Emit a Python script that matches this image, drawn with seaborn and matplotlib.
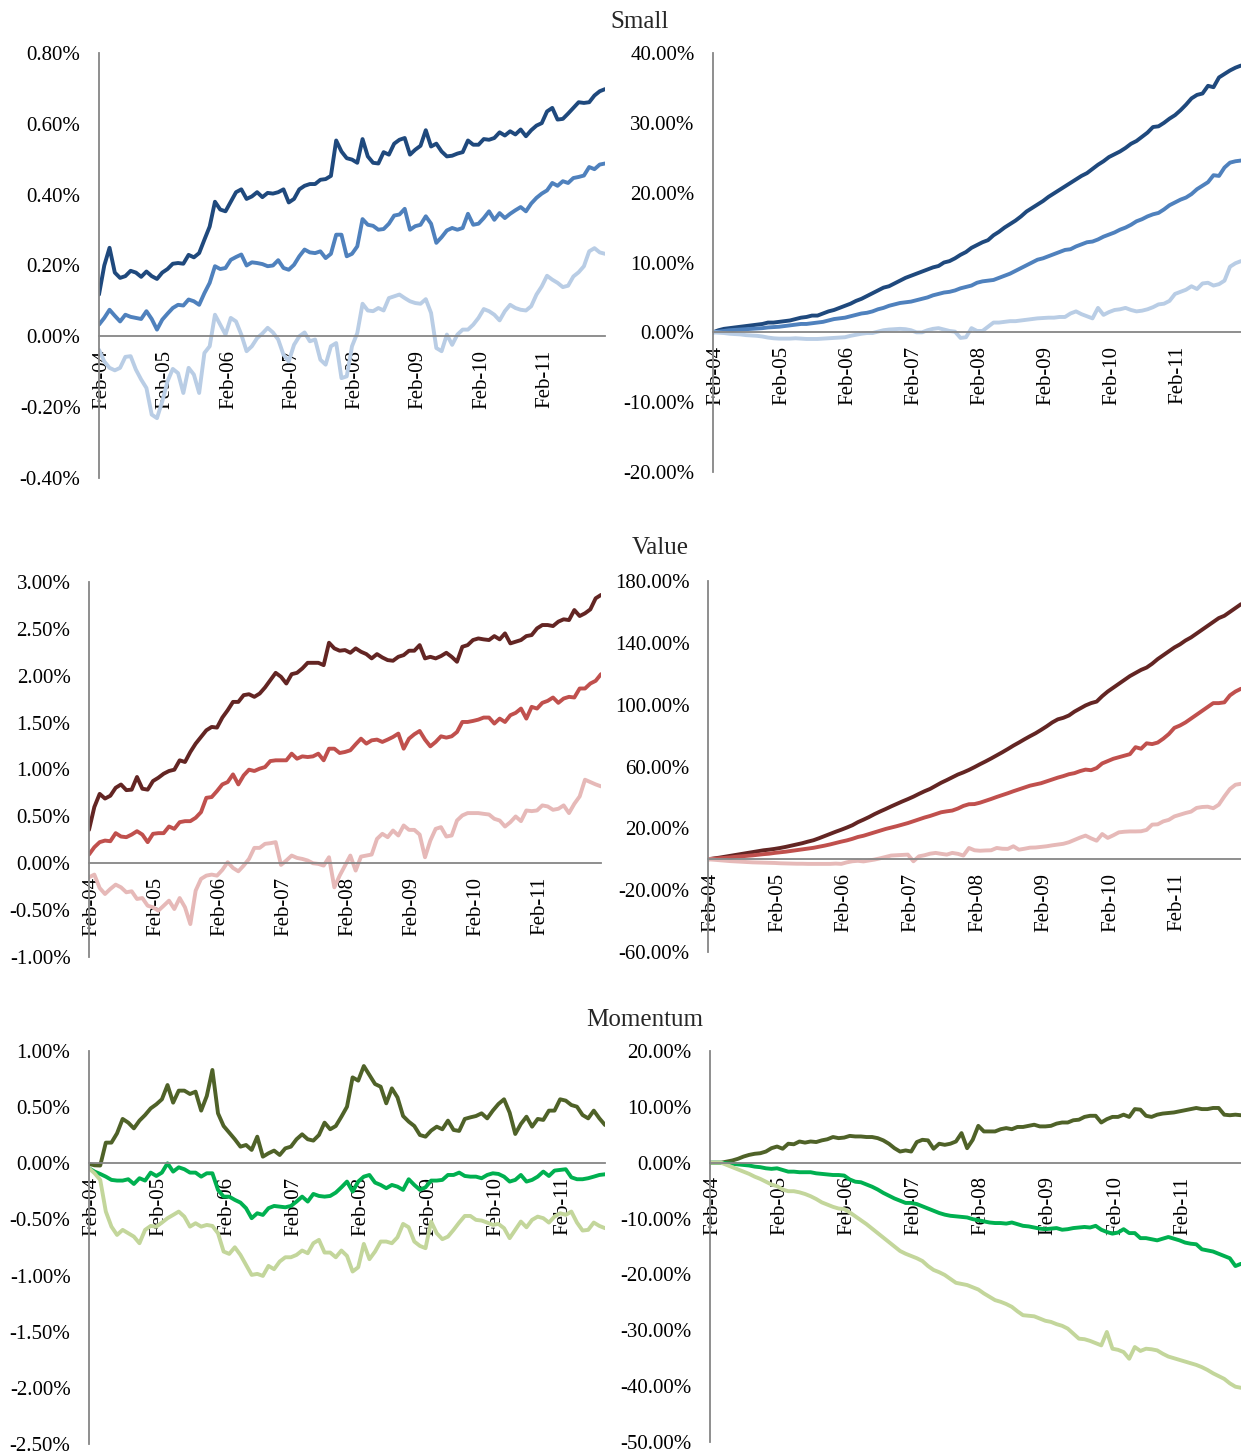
import numpy as np
import pandas as pd
import matplotlib
matplotlib.use("Agg")
import matplotlib.pyplot as plt
import matplotlib.transforms as mtransforms
import seaborn as sns
from matplotlib.ticker import FuncFormatter

# ---------------- data (percent) ----------------
year_labels = ["Feb-04", "Feb-05", "Feb-06", "Feb-07", "Feb-08", "Feb-09", "Feb-10", "Feb-11"]

small_avg_high = [0.118, 0.20, 0.25, 0.18, 0.165, 0.17, 0.185, 0.18, 0.168, 0.183, 0.17, 0.162,
                  0.18, 0.19, 0.205, 0.207, 0.205, 0.23, 0.223, 0.235, 0.273, 0.31, 0.38, 0.358,
                  0.353, 0.38, 0.407, 0.415, 0.388, 0.395, 0.407, 0.393, 0.405, 0.403, 0.407, 0.415,
                  0.378, 0.388, 0.415, 0.425, 0.43, 0.43, 0.442, 0.444, 0.453, 0.553, 0.522, 0.503,
                  0.499, 0.49, 0.557, 0.508, 0.49, 0.488, 0.52, 0.513, 0.544, 0.555, 0.56, 0.513,
                  0.527, 0.538, 0.582, 0.536, 0.544, 0.522, 0.508, 0.51, 0.516, 0.52, 0.553, 0.541,
                  0.541, 0.557, 0.555, 0.56, 0.576, 0.567, 0.579, 0.57, 0.584, 0.565, 0.582, 0.595,
                  0.602, 0.635, 0.645, 0.612, 0.614, 0.629, 0.645, 0.661, 0.659, 0.661, 0.68, 0.692, 0.698]
small_avg_mid = [0.033, 0.052, 0.075, 0.058, 0.042, 0.061, 0.055, 0.052, 0.049, 0.071, 0.049, 0.019,
                 0.047, 0.064, 0.08, 0.089, 0.087, 0.104, 0.099, 0.089, 0.122, 0.151, 0.198, 0.19,
                 0.193, 0.216, 0.224, 0.231, 0.2, 0.209, 0.207, 0.204, 0.198, 0.2, 0.215, 0.193,
                 0.188, 0.202, 0.226, 0.245, 0.237, 0.235, 0.24, 0.221, 0.233, 0.287, 0.287, 0.226,
                 0.233, 0.254, 0.331, 0.315, 0.312, 0.301, 0.303, 0.318, 0.341, 0.344, 0.36, 0.301,
                 0.311, 0.315, 0.339, 0.318, 0.264, 0.28, 0.299, 0.306, 0.301, 0.306, 0.346, 0.315,
                 0.318, 0.334, 0.353, 0.329, 0.348, 0.334, 0.346, 0.356, 0.365, 0.353, 0.375, 0.391,
                 0.403, 0.412, 0.433, 0.425, 0.438, 0.433, 0.447, 0.45, 0.454, 0.478, 0.472, 0.485, 0.488]
small_avg_low = [-0.038, -0.071, -0.089, -0.096, -0.089, -0.058, -0.056, -0.094, -0.122, -0.146, -0.221, -0.231,
                 -0.184, -0.127, -0.092, -0.104, -0.16, -0.089, -0.108, -0.16, -0.047, -0.028, 0.061, 0.033,
                 0.005, 0.052, 0.042, 0.005, -0.042, -0.028, -0.005, 0.008, 0.024, 0.011, -0.009, -0.052,
                 -0.071, -0.024, 0.0, 0.011, -0.014, -0.009, -0.066, -0.08, -0.028, -0.019, -0.118, -0.113,
                 -0.028, 0.009, 0.092, 0.073, 0.071, 0.08, 0.073, 0.108, 0.113, 0.118, 0.108, 0.099,
                 0.094, 0.092, 0.105, 0.066, -0.033, -0.042, 0.005, -0.024, 0.005, 0.019, 0.019, 0.033,
                 0.052, 0.077, 0.071, 0.061, 0.045, 0.071, 0.089, 0.08, 0.075, 0.073, 0.085, 0.118,
                 0.141, 0.171, 0.16, 0.151, 0.139, 0.143, 0.169, 0.181, 0.198, 0.24, 0.249, 0.237, 0.233]

small_cum_high = [0.0, 0.3, 0.5, 0.6, 0.7, 0.8, 0.9, 1.0, 1.1, 1.2, 1.4, 1.4,
                  1.5, 1.6, 1.7, 1.9, 2.1, 2.2, 2.4, 2.4, 2.7, 3.0, 3.2, 3.5,
                  3.8, 4.1, 4.5, 4.8, 5.2, 5.6, 6.0, 6.4, 6.6, 7.0, 7.4, 7.8,
                  8.1, 8.4, 8.7, 9.0, 9.3, 9.5, 10.0, 10.2, 10.6, 11.1, 11.5, 12.1,
                  12.5, 12.9, 13.2, 13.9, 14.4, 15.0, 15.5, 16.0, 16.6, 17.3, 17.8, 18.3,
                  18.8, 19.4, 19.9, 20.4, 20.9, 21.4, 21.9, 22.4, 22.8, 23.4, 24.0, 24.5,
                  25.1, 25.5, 25.9, 26.4, 27.0, 27.4, 28.0, 28.6, 29.4, 29.5, 30.0, 30.6,
                  31.1, 31.8, 32.6, 33.5, 34.0, 34.2, 35.3, 35.1, 36.5, 37.0, 37.5, 37.9, 38.2]
small_cum_mid = [0.0, 0.1, 0.2, 0.3, 0.35, 0.4, 0.45, 0.5, 0.55, 0.6, 0.7, 0.75,
                 0.8, 0.9, 1.0, 1.1, 1.2, 1.2, 1.3, 1.4, 1.5, 1.7, 1.9, 2.0,
                 2.1, 2.3, 2.5, 2.7, 2.8, 3.0, 3.3, 3.5, 3.8, 4.0, 4.2, 4.3,
                 4.4, 4.6, 4.8, 5.0, 5.3, 5.5, 5.7, 5.8, 6.0, 6.3, 6.5, 6.7,
                 7.1, 7.3, 7.4, 7.5, 7.8, 8.1, 8.4, 8.8, 9.2, 9.6, 10.0, 10.4,
                 10.6, 10.9, 11.2, 11.5, 11.8, 11.9, 12.3, 12.6, 12.9, 13.0, 13.3, 13.7,
                 14.0, 14.3, 14.7, 15.0, 15.4, 15.9, 16.2, 16.6, 16.9, 17.1, 17.6, 18.2,
                 18.6, 19.0, 19.3, 19.8, 20.5, 21.0, 21.5, 22.5, 22.4, 23.6, 24.3, 24.5, 24.6]
small_cum_low = [0.0, -0.05, -0.1, -0.2, -0.25, -0.3, -0.4, -0.45, -0.5, -0.6, -0.75, -0.85,
                 -0.9, -0.9, -0.9, -0.85, -0.9, -0.95, -0.95, -0.95, -0.9, -0.85, -0.8, -0.75,
                 -0.7, -0.5, -0.35, -0.2, -0.1, -0.1, 0.1, 0.3, 0.4, 0.45, 0.5, 0.45,
                 0.3, 0.0, 0.0, 0.3, 0.5, 0.6, 0.4, 0.2, 0.1, -0.8, -0.7, 0.6,
                 0.2, 0.2, 0.8, 1.4, 1.4, 1.5, 1.6, 1.6, 1.7, 1.8, 1.9, 2.0,
                 2.05, 2.1, 2.1, 2.2, 2.2, 2.7, 3.0, 2.6, 2.3, 2.0, 3.5, 2.5,
                 2.9, 3.2, 3.3, 3.5, 3.2, 3.0, 3.1, 3.3, 3.6, 4.0, 4.1, 4.5,
                 5.5, 5.8, 6.1, 6.6, 6.2, 7.0, 7.1, 6.7, 6.9, 7.4, 9.4, 9.9, 10.2]

value_avg_high = [0.356, 0.6, 0.74, 0.69, 0.72, 0.805, 0.84, 0.78, 0.785, 0.92, 0.795, 0.785,
                  0.877, 0.912, 0.955, 0.984, 0.998, 1.098, 1.08, 1.187, 1.276, 1.347, 1.418, 1.454,
                  1.447, 1.554, 1.632, 1.721, 1.721, 1.793, 1.803, 1.775, 1.81, 1.875, 1.953, 2.031,
                  1.989, 1.917, 2.017, 2.031, 2.078, 2.138, 2.138, 2.138, 2.113, 2.352, 2.292, 2.267,
                  2.274, 2.245, 2.292, 2.256, 2.231, 2.185, 2.231, 2.195, 2.167, 2.16, 2.202, 2.22,
                  2.267, 2.267, 2.327, 2.185, 2.202, 2.185, 2.21, 2.245, 2.202, 2.149, 2.309, 2.327,
                  2.381, 2.398, 2.388, 2.381, 2.423, 2.388, 2.452, 2.345, 2.363, 2.381, 2.423, 2.434,
                  2.505, 2.541, 2.541, 2.53, 2.577, 2.602, 2.594, 2.701, 2.637, 2.666, 2.708, 2.826, 2.862]
value_avg_mid = [0.093, 0.171, 0.225, 0.242, 0.235, 0.321, 0.285, 0.278, 0.306, 0.342, 0.306, 0.225,
                 0.314, 0.321, 0.321, 0.392, 0.367, 0.438, 0.449, 0.449, 0.485, 0.545, 0.698, 0.706,
                 0.77, 0.841, 0.866, 0.948, 0.841, 0.937, 0.998, 0.984, 1.009, 1.026, 1.09, 1.098,
                 1.098, 1.098, 1.169, 1.115, 1.14, 1.133, 1.14, 1.169, 1.098, 1.222, 1.222, 1.176,
                 1.187, 1.205, 1.269, 1.329, 1.276, 1.311, 1.319, 1.294, 1.319, 1.347, 1.383, 1.222,
                 1.329, 1.376, 1.411, 1.319, 1.247, 1.294, 1.354, 1.34, 1.354, 1.4, 1.507, 1.507,
                 1.518, 1.532, 1.554, 1.554, 1.49, 1.543, 1.507, 1.579, 1.604, 1.65, 1.543, 1.668,
                 1.65, 1.711, 1.732, 1.768, 1.711, 1.757, 1.775, 1.768, 1.864, 1.864, 1.917, 1.946, 2.017]
value_avg_low = [-0.15, -0.121, -0.264, -0.328, -0.274, -0.228, -0.257, -0.31, -0.299, -0.381, -0.371, -0.453,
                 -0.47, -0.506, -0.453, -0.399, -0.488, -0.371, -0.47, -0.649, -0.292, -0.167, -0.132, -0.121,
                 -0.132, -0.071, 0.011, -0.05, -0.086, -0.025, 0.046, 0.164, 0.164, 0.207, 0.214, 0.225,
                 -0.018, 0.029, 0.082, 0.057, 0.046, 0.029, 0.0, -0.007, -0.025, 0.064, -0.257, -0.132,
                 -0.025, 0.082, -0.078, 0.071, 0.082, 0.093, 0.26, 0.314, 0.278, 0.349, 0.296, 0.403,
                 0.356, 0.356, 0.306, 0.064, 0.242, 0.367, 0.385, 0.285, 0.296, 0.456, 0.51, 0.535,
                 0.535, 0.535, 0.527, 0.52, 0.474, 0.456, 0.392, 0.438, 0.499, 0.449, 0.563, 0.556,
                 0.563, 0.617, 0.606, 0.57, 0.581, 0.617, 0.535, 0.634, 0.713, 0.891, 0.866, 0.841, 0.82]

value_cum_high = [0.0, 0.5, 1.0, 1.6, 2.2, 2.8, 3.4, 4.0, 4.6, 5.2, 5.8, 6.2,
                  6.7, 7.3, 8.0, 8.8, 9.6, 10.4, 11.4, 12.3, 13.6, 15.0, 16.4, 17.8,
                  19.1, 20.5, 22.0, 24.0, 25.6, 27.3, 29.2, 30.9, 32.5, 34.2, 35.8, 37.4,
                  38.9, 40.5, 42.3, 44.0, 45.5, 47.5, 49.5, 51.2, 53.0, 54.8, 56.2, 57.8,
                  59.6, 61.5, 63.3, 65.2, 67.2, 69.2, 71.3, 73.5, 75.5, 77.6, 79.6, 81.5,
                  83.7, 86.0, 88.5, 90.5, 91.5, 93.0, 95.5, 97.5, 99.5, 101.0, 102.0, 105.5,
                  108.5, 111.0, 113.5, 116.0, 118.5, 120.5, 122.5, 124.0, 126.5, 129.5, 132.0, 134.5,
                  137.0, 139.0, 141.5, 143.5, 146.0, 148.5, 151.0, 153.5, 156.0, 157.5, 160.0, 162.5, 165.0]
value_cum_mid = [0.0, 0.3, 0.6, 0.9, 1.2, 1.6, 1.9, 2.2, 2.5, 2.9, 3.3, 3.6,
                 4.1, 4.5, 4.9, 5.4, 5.9, 6.4, 6.9, 7.4, 8.1, 8.8, 9.6, 10.5,
                 11.4, 12.2, 13.2, 14.4, 15.2, 16.3, 17.4, 18.5, 19.6, 20.5, 21.4, 22.4,
                 23.4, 24.6, 25.8, 27.0, 28.0, 29.2, 30.4, 31.0, 31.5, 32.8, 34.5, 35.6,
                 35.7, 36.6, 37.8, 39.0, 40.3, 41.5, 42.7, 44.0, 45.2, 46.4, 47.6, 48.4,
                 49.2, 50.4, 51.6, 52.8, 53.8, 55.0, 55.7, 57.0, 58.0, 57.6, 59.0, 62.0,
                 63.5, 65.0, 66.0, 67.0, 68.0, 72.5, 71.5, 75.0, 74.5, 75.5, 78.0, 81.0,
                 85.0, 86.5, 88.5, 91.0, 93.5, 96.0, 98.5, 101.0, 101.0, 101.5, 106.0, 108.5, 110.3]
value_cum_low = [0.0, -0.3, -0.6, -0.9, -1.2, -1.4, -1.6, -1.8, -2.0, -2.1, -2.2, -2.3,
                 -2.4, -2.6, -2.7, -2.8, -2.9, -2.9, -3.0, -3.0, -3.0, -3.0, -3.0, -2.8,
                 -3.0, -2.0, -1.3, -1.0, -1.4, -0.8, -0.2, 0.6, 1.5, 2.4, 2.6, 2.8,
                 3.0, -1.3, 1.9, 2.6, 3.6, 4.1, 3.5, 3.0, 4.1, 3.5, 2.4, 7.3,
                 5.8, 5.5, 5.7, 5.8, 7.3, 6.8, 6.7, 8.4, 6.2, 6.8, 7.5, 7.6,
                 8.0, 8.4, 9.0, 9.5, 10.0, 11.0, 12.5, 14.0, 15.3, 13.5, 12.0, 16.3,
                 13.8, 15.5, 17.4, 17.8, 18.0, 18.0, 18.1, 19.0, 22.4, 22.6, 24.5, 25.5,
                 27.7, 28.8, 29.9, 30.8, 33.2, 33.8, 34.0, 33.0, 35.3, 40.6, 45.4, 48.2, 48.8]

mom_avg_high = [-0.006, -0.018, -0.02, 0.184, 0.184, 0.267, 0.395, 0.362, 0.311, 0.38, 0.43, 0.489,
                0.525, 0.57, 0.697, 0.54, 0.647, 0.647, 0.617, 0.638, 0.469, 0.599, 0.831, 0.445,
                0.332, 0.273, 0.214, 0.148, 0.163, 0.119, 0.237, 0.059, 0.089, 0.113, 0.074, 0.133,
                0.148, 0.214, 0.258, 0.214, 0.202, 0.252, 0.362, 0.303, 0.332, 0.415, 0.504, 0.765,
                0.736, 0.866, 0.786, 0.706, 0.682, 0.534, 0.667, 0.587, 0.421, 0.371, 0.332, 0.252,
                0.237, 0.291, 0.326, 0.303, 0.38, 0.297, 0.288, 0.395, 0.409, 0.421, 0.445, 0.4,
                0.469, 0.528, 0.57, 0.451, 0.261, 0.35, 0.415, 0.326, 0.395, 0.386, 0.469, 0.469,
                0.57, 0.558, 0.519, 0.504, 0.43, 0.4, 0.469, 0.4, 0.341]
mom_avg_mid = [-0.045, -0.074, -0.095, -0.119, -0.148, -0.154, -0.154, -0.142, -0.184, -0.133, -0.154, -0.083,
               -0.113, -0.083, 0.0, -0.074, -0.036, -0.053, -0.083, -0.083, -0.119, -0.089, -0.089, -0.237,
               -0.297, -0.297, -0.326, -0.35, -0.4, -0.489, -0.445, -0.46, -0.4, -0.38, -0.386, -0.392,
               -0.38, -0.341, -0.297, -0.341, -0.273, -0.291, -0.297, -0.291, -0.261, -0.214, -0.163, -0.252,
               -0.163, -0.119, -0.104, -0.172, -0.193, -0.222, -0.193, -0.208, -0.237, -0.142, -0.193, -0.237,
               -0.214, -0.154, -0.154, -0.148, -0.104, -0.104, -0.083, -0.113, -0.119, -0.119, -0.133, -0.104,
               -0.089, -0.095, -0.119, -0.163, -0.148, -0.104, -0.163, -0.148, -0.119, -0.074, -0.113, -0.065,
               -0.059, -0.053, -0.125, -0.142, -0.142, -0.133, -0.119, -0.104, -0.098]
mom_avg_low = [-0.045, -0.089, -0.148, -0.43, -0.564, -0.638, -0.593, -0.623, -0.653, -0.712, -0.593, -0.558,
               -0.564, -0.528, -0.489, -0.46, -0.43, -0.475, -0.564, -0.534, -0.564, -0.549, -0.558, -0.623,
               -0.786, -0.807, -0.748, -0.816, -0.905, -0.994, -0.985, -1.003, -0.914, -0.943, -0.875, -0.837,
               -0.837, -0.816, -0.777, -0.801, -0.712, -0.682, -0.795, -0.795, -0.837, -0.777, -0.825, -0.964,
               -0.926, -0.718, -0.854, -0.786, -0.697, -0.697, -0.712, -0.659, -0.54, -0.57, -0.697, -0.736,
               -0.756, -0.519, -0.623, -0.676, -0.653, -0.593, -0.528, -0.469, -0.469, -0.504, -0.51, -0.528,
               -0.549, -0.54, -0.578, -0.667, -0.593, -0.519, -0.57, -0.504, -0.475, -0.489, -0.528, -0.475,
               -0.445, -0.46, -0.43, -0.528, -0.599, -0.593, -0.528, -0.558, -0.578]

mom_cum_high = [0.0, 0.0, 0.0, 0.2, 0.4, 0.7, 1.1, 1.4, 1.6, 1.7, 2.0, 2.6,
                2.9, 2.5, 3.4, 3.3, 3.8, 3.6, 3.8, 3.7, 4.0, 4.2, 4.6, 4.4,
                4.5, 4.8, 4.7, 4.7, 4.6, 4.6, 4.4, 4.0, 3.4, 2.6, 2.0, 2.2,
                2.0, 3.7, 4.1, 4.0, 2.5, 3.4, 3.2, 3.4, 3.8, 5.3, 2.6, 4.1,
                6.6, 5.6, 5.6, 5.6, 6.0, 6.2, 6.0, 6.4, 6.4, 6.6, 6.8, 6.5,
                6.5, 6.6, 7.0, 7.2, 7.2, 7.6, 7.7, 8.2, 8.4, 8.4, 7.2, 7.8,
                8.2, 8.2, 8.6, 8.2, 9.6, 9.5, 8.4, 8.2, 8.6, 8.8, 8.9, 9.0,
                9.2, 9.4, 9.6, 9.8, 9.6, 9.6, 9.8, 9.8, 8.6, 8.5, 8.6, 8.5]
mom_cum_mid = [0.0, 0.0, 0.0, -0.1, -0.2, -0.3, -0.4, -0.5, -0.7, -0.8, -1.0, -1.1,
               -1.0, -1.3, -1.6, -1.6, -1.7, -1.7, -1.7, -1.9, -2.0, -2.1, -2.2, -2.2,
               -2.3, -3.0, -3.4, -3.5, -3.9, -4.3, -4.8, -5.4, -5.9, -6.4, -6.8, -7.2,
               -7.2, -7.4, -7.8, -8.2, -8.6, -9.0, -9.3, -9.5, -9.6, -9.7, -9.8, -10.1,
               -10.3, -10.5, -10.7, -10.8, -10.8, -10.9, -10.7, -11.0, -11.3, -11.4, -11.6, -11.8,
               -11.9, -11.8, -11.7, -12.0, -11.9, -11.7, -11.6, -11.5, -11.6, -11.3, -12.0, -12.4,
               -12.7, -12.5, -11.9, -12.6, -12.6, -13.5, -13.5, -13.7, -13.9, -13.6, -13.3, -13.6,
               -13.9, -14.3, -14.5, -14.6, -15.5, -15.7, -15.9, -16.3, -16.7, -17.1, -18.5, -18.1]
mom_cum_low = [0.0, 0.0, 0.0, -0.4, -0.8, -1.2, -1.6, -2.0, -2.5, -2.9, -3.4, -3.9,
               -4.2, -4.8, -5.1, -5.1, -5.3, -5.6, -6.0, -6.5, -7.1, -7.5, -7.9, -8.2,
               -8.3, -8.9, -9.6, -10.3, -11.0, -11.8, -12.6, -13.4, -14.2, -15.0, -15.8, -16.3,
               -16.7, -17.1, -17.6, -18.5, -19.2, -19.6, -20.1, -20.8, -21.5, -21.7, -21.9, -22.3,
               -22.7, -23.4, -24.0, -24.6, -24.9, -25.3, -25.8, -26.6, -27.3, -27.4, -27.5, -27.9,
               -28.3, -28.5, -28.9, -29.2, -29.7, -30.6, -31.5, -31.6, -31.9, -32.3, -32.7, -30.3,
               -33.3, -33.5, -33.9, -35.1, -33.0, -33.7, -33.3, -33.4, -33.6, -34.2, -34.7, -35.0,
               -35.3, -35.6, -35.9, -36.2, -36.6, -37.1, -37.7, -38.2, -38.7, -39.5, -40.1, -40.3]

series_names = ["High", "Mid", "Low"]
small_colors = ["#1F497D", "#4F81BD", "#B9CDE5"]
value_colors = ["#632523", "#C0504D", "#E6B9B8"]
mom_colors = ["#4F6228", "#00B050", "#C3D69B"]

# ---------------- style ----------------
sns.set_style("white")
plt.rcParams["font.family"] = ["Liberation Serif", "DejaVu Serif"]
plt.rcParams["axes.linewidth"] = 1.0

AX_COLOR = "#868686"

fig = plt.figure(figsize=(12.41, 14.54), dpi=100)
W, H = 1241.0, 1454.0
label_shift = mtransforms.ScaledTranslation(3.0 / 100.0, 0, fig.dpi_scale_trans)


def make_ax(x0, x1, ytop, ybot):
    return fig.add_axes([x0 / W, 1 - ybot / H, (x1 - x0) / W, (ybot - ytop) / H])


def draw(ax, seriess, colors, ylo, yhi, ystep):
    n = len(seriess[0])
    frames = []
    for name, vals in zip(series_names, seriess):
        frames.append(pd.DataFrame({"month": np.arange(len(vals)), "value": vals, "series": name}))
    df = pd.concat(frames, ignore_index=True)
    sns.lineplot(data=df, x="month", y="value", hue="series", hue_order=series_names,
                 palette=colors, linewidth=2.8, legend=False, ax=ax)
    for s in ["top", "right"]:
        ax.spines[s].set_visible(False)
    for s in ["left", "bottom"]:
        ax.spines[s].set_color(AX_COLOR)
        ax.spines[s].set_linewidth(1.3)
    ax.spines["bottom"].set_position(("data", 0))
    ax.set_xlim(0, n - 1)
    ax.set_ylim(ylo, yhi)
    nt = int(round((yhi - ylo) / ystep)) + 1
    ax.set_yticks([ylo + k * ystep for k in range(nt)])
    ax.yaxis.set_major_formatter(FuncFormatter(lambda v, p: "%.2f%%" % v))
    ticks = [12 * k for k in range(len(year_labels)) if 12 * k <= n - 1]
    labels = [year_labels[k] for k in range(len(ticks))]
    if n - 1 > ticks[-1] + 8:
        ticks.append(n - 1)
        labels.append("")
    ax.set_xticks(ticks)
    ax.set_xticklabels(labels)
    ax.set_xlabel("")
    ax.set_ylabel("")
    ax.tick_params(axis="both", direction="out", length=4.3, width=1.1, color=AX_COLOR,
                   labelsize=15, labelcolor="black")
    ax.tick_params(axis="y", pad=9)
    ax.tick_params(axis="x", pad=5.5, labelrotation=90)
    for lab in ax.get_xticklabels():
        lab.set_rotation(90)
        lab.set_va("top")
        lab.set_ha("center")
        lab.set_transform(lab.get_transform() + label_shift)
    ax.patch.set_alpha(0)
    ax.grid(False)


ax1 = make_ax(99, 605, 53, 478)
draw(ax1, [small_avg_high, small_avg_mid, small_avg_low], small_colors, -0.4, 0.8, 0.2)
ax2 = make_ax(713, 1241, 53, 472)
draw(ax2, [small_cum_high, small_cum_mid, small_cum_low], small_colors, -20, 40, 10)

ax3 = make_ax(89, 601, 582, 957)
draw(ax3, [value_avg_high, value_avg_mid, value_avg_low], value_colors, -1.0, 3.0, 0.5)
ax4 = make_ax(708, 1241, 581, 952)
draw(ax4, [value_cum_high, value_cum_mid, value_cum_low], value_colors, -60, 180, 40)

ax5 = make_ax(89, 605, 1051, 1444)
draw(ax5, [mom_avg_high, mom_avg_mid, mom_avg_low], mom_colors, -2.5, 1.0, 0.5)
ax6 = make_ax(710, 1241, 1051, 1442)
draw(ax6, [mom_cum_high, mom_cum_mid, mom_cum_low], mom_colors, -50, 20, 10)

fig.text(640 / W, 1 - 22 / H, "Small", ha="center", va="center", fontsize=18)
fig.text(660 / W, 1 - 548 / H, "Value", ha="center", va="center", fontsize=18)
fig.text(645 / W, 1 - 1020 / H, "Momentum", ha="center", va="center", fontsize=18)

fig.savefig("out.png", dpi=100, facecolor="white")
